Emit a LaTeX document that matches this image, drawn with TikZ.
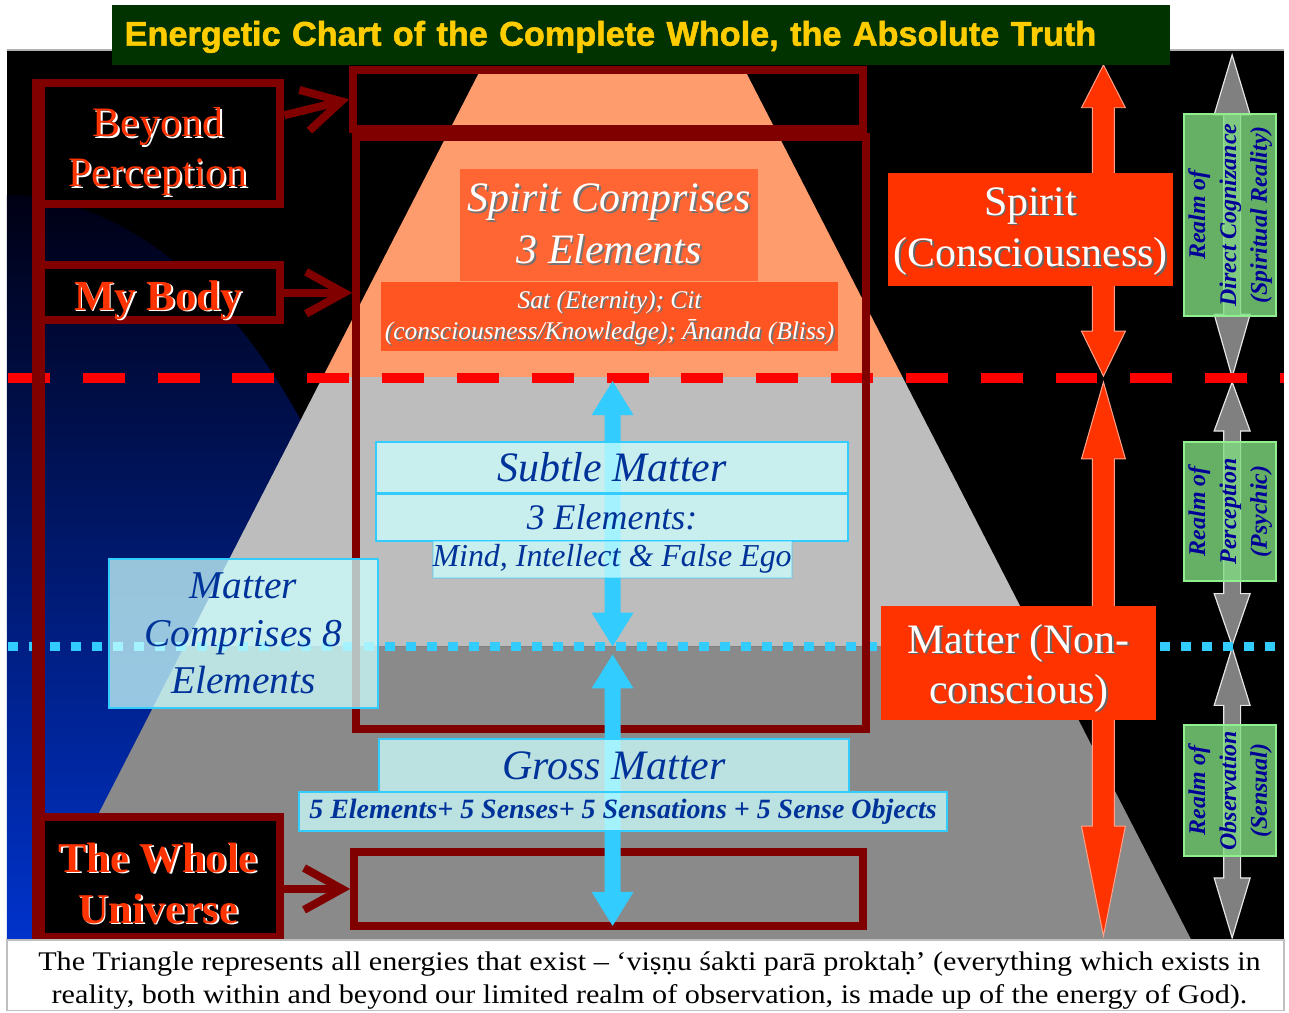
\documentclass[tikz,border=0pt]{standalone}
\usepackage{fontspec}
\setmainfont{Liberation Serif}
\newfontfamily\titlefont{Liberation Sans}[BoldFeatures={FakeBold=1.6}]
\newfontfamily\captionfont{Liberation Serif}[FakeStretch=1.12]
\usetikzlibrary{arrows.meta}

\definecolor{maroonline}{HTML}{800000}
\definecolor{titlegreen}{HTML}{003300}
\definecolor{titleyellow}{HTML}{FFCC00}
\definecolor{spiritred}{HTML}{FF3300}
\definecolor{spiritorange}{HTML}{FF6633}
\definecolor{satorange}{HTML}{FF5522}
\definecolor{pyrorange}{HTML}{FF9C6E}
\definecolor{subtlegray}{HTML}{BDBDBD}
\definecolor{grossgray}{HTML}{8A8A8A}
\definecolor{matterblue}{HTML}{003399}
\definecolor{realmblue}{HTML}{000099}
\definecolor{skycyan}{HTML}{33CCFF}
\definecolor{palecyan}{HTML}{CCFFFF}
\definecolor{realmgreen}{HTML}{80DC80}
\definecolor{realmedge}{HTML}{90F090}
\definecolor{navytop}{HTML}{000014}
\definecolor{navybottom}{HTML}{0033CC}

\newcommand{\fsz}[2]{\fontsize{#1}{#2}\selectfont}
% text with an offset shadow: [lowering], colour, shadow colour, text
\newcommand{\emb}[4][0pt]{\raisebox{-#1}[\height][\depth]{\rlap{\hspace{1.8pt}\raisebox{-1.8pt}{\color{#3}#4}}{\color{#2}#4}}}

\begin{document}
\begin{tikzpicture}[x=1pt, y=-1pt,
    tagbox/.style={draw=maroonline, line width=8pt, fill=black, inner sep=0pt, align=center},
    frame/.style={draw=maroonline, line width=8pt, inner sep=0pt},
    barb/.style={draw=maroonline, line width=8pt, -{Straight Barb[length=38pt, width=42pt]}},
    spine/.style={draw=maroonline, line width=13pt},
    redbox/.style={fill=spiritred, inner sep=0pt, align=center, font=\fsz{42}{52}},
    orangebox/.style={inner sep=0pt, align=center},
    palebox/.style={fill=palecyan, fill opacity=0.75, text opacity=1, draw=skycyan,
      line width=2pt, inner sep=0pt, align=center, text=matterblue},
    realmbox/.style={fill=realmgreen, fill opacity=0.8, text opacity=1, draw=realmedge,
      line width=2pt, inner sep=0pt, align=center, rotate=90, text=realmblue,
      font=\fsz{24}{31}\bfseries\itshape},
    dashedred/.style={draw=red, line width=10pt, dash pattern=on 42pt off 33pt},
    dottedcyan/.style={draw=skycyan, line width=10pt, dash pattern=on 10pt off 11pt}]

    % background, panel and blue glow
    \fill[white] (0,0) rectangle (1289,1013);
    \fill[black] (7,50) rectangle (1287,942);
    \begin{scope}
        \clip (7,50) rectangle (1287,942);
        \clip (0,940) ellipse [x radius=420pt, y radius=745pt];
        \shade[top color=navytop, bottom color=navybottom] (7,195) rectangle (430,942);
    \end{scope}

    % the triangle
    \fill[pyrorange] (480,73) -- (748,73) -- (904.6,378) -- (323.4,378) -- cycle;
    \fill[subtlegray] (323.4,378) -- (904.6,378) -- (1043.3,648) -- (184.7,648) -- cycle;
    \fill[grossgray] (184.7,648) -- (1043.3,648) -- (1194,942) -- (34,942) -- cycle;

    % block arrows on the right
    \foreach \ya/\yb/\la/\lb in {65/377/43/45, 383/938/77/110}
        \filldraw[fill=spiritred, draw=spiritred!45!white, line width=1pt]
            (1106,\ya) -- (1128,\ya+\la) -- (1117,\ya+\la) -- (1117,\yb-\lb) -- (1128,\yb-\lb)
            -- (1106,\yb) -- (1084,\yb-\lb) -- (1095,\yb-\lb) -- (1095,\ya+\la) -- (1084,\ya+\la) -- cycle;
    \foreach \ya/\yb/\la/\lb in {55/378/60/63, 383/647/49/52, 649/940/58/60}
        \filldraw[fill=gray, draw=white!80!gray, line width=1.2pt]
            (1235,\ya) -- (1253,\ya+\la) -- (1243.5,\ya+\la) -- (1243.5,\yb-\lb) -- (1253,\yb-\lb)
            -- (1235,\yb) -- (1217,\yb-\lb) -- (1226.5,\yb-\lb) -- (1226.5,\ya+\la) -- (1217,\ya+\la) -- cycle;

    % level lines
    \draw[dashedred] (8,379) -- (1287,379);
    \draw[dottedcyan] (8,648) -- (1280,648);

    % tags and frames
    \node[tagbox, minimum width=245pt, minimum height=121pt, font=\fsz{42}{50}] (beyond) at (158.5,143.5)
        {\emb[9pt]{spiritred}{white}{Beyond}\\\emb[9pt]{spiritred}{white}{Perception}};
    \node[tagbox, minimum width=245pt, minimum height=55pt, font=\fsz{43}{50}\bfseries] (mybody) at (158.5,293.5)
        {\emb[8pt]{spiritred}{white}{My Body}};
    \node[tagbox, minimum width=245pt, minimum height=120pt, font=\fsz{42.5}{51}\bfseries] (universe) at (158.5,879)
        {\emb[7pt]{spiritred}{white}{The Whole}\\\emb[7pt]{spiritred}{white}{Universe}};
    \node[frame, minimum width=511pt, minimum height=59pt] (upper) at (609.5,99.5) {};
    \node[frame, minimum width=511pt, minimum height=594pt] (middle) at (612.5,434) {};
    \node[frame, minimum width=510pt, minimum height=74pt] (lower) at (610,891) {};

    \draw[spine] ([xshift=6.5pt]beyond.north west) -- ([xshift=6.5pt]universe.south west);
    \draw[barb] ([yshift=28pt]beyond.east) -- (upper.west);
    \draw[barb] (mybody.east) -- (mybody.east -| middle.west);
    \draw[barb] (lower.west -| universe.east) -- (lower.west);

    % arrows through matter
    \foreach \ya/\yb in {382/648, 656/928}
        \fill[skycyan] (614,\ya) -- (635,\ya+34) -- (622,\ya+34) -- (622,\yb-34) -- (635,\yb-34)
            -- (614,\yb) -- (593,\yb-34) -- (606,\yb-34) -- (606,\ya+34) -- (593,\ya+34) -- cycle;

    % spirit
    \node[orangebox, fill=spiritorange, minimum width=299pt, minimum height=113pt, font=\fsz{42}{52}\itshape]
        (spiritcomp) at (610.5,225.5)
        {\emb{white}{black!55}{Spirit Comprises}\\\emb{white}{black!55}{3 Elements}};
    \node[orangebox, fill=satorange, minimum width=458pt, minimum height=69pt, font=\fsz{25.5}{32}\itshape]
        (sat) at (611,317.5)
        {\emb[2pt]{white}{black!55}{Sat (Eternity); Cit}\\\emb[2pt]{white}{black!55}{(consciousness/Knowledge); Ānanda (Bliss)}};

    % matter
    \node[palebox, minimum width=473pt, minimum height=51pt, font=\fsz{42}{48}\itshape] (subtle) at (613.5,468.5) {Subtle Matter};
    \node[palebox, minimum width=473pt, minimum height=47pt, font=\fsz{36}{40}\itshape] (threeel) at (613.5,518.5) {3 Elements:};
    \node[palebox, draw opacity=0.3, minimum width=359pt, minimum height=37pt, font=\fsz{32}{36}\itshape] (mind) at (613.5,560.5)
        {Mind, Intellect \& False Ego};
    \node[palebox, minimum width=270pt, minimum height=150pt, font=\fsz{39.5}{47.5}\itshape] (mattercomp) at (244,635)
        {Matter\\Comprises 8\\Elements};
    \node[palebox, minimum width=471pt, minimum height=53pt, font=\fsz{42}{48}\itshape] (gross) at (615.5,767.5) {Gross Matter};
    \node[palebox, minimum width=649pt, minimum height=39pt, font=\fsz{28}{30}\bfseries\itshape] (fiveel) at (624.5,813.5)
        {5 Elements+ 5 Senses+ 5 Sensations + 5 Sense Objects};

    \node[redbox, minimum width=286pt, minimum height=114pt] (spirit) at (1033,230)
        {\emb[3pt]{white}{black!60}{Spirit}\\\emb[3pt]{white}{black!60}{(Consciousness)}};
    \node[redbox, minimum width=276pt, minimum height=115pt, font=\fsz{42}{50}] (matter) at (1021,664.5)
        {\emb[6pt]{white}{black!60}{Matter (Non-}\\\emb[6pt]{white}{black!60}{conscious)}};

    % realms
    \node[realmbox, minimum width=203pt, minimum height=92pt] (cognizance) at (1233,215.5)
        {Realm of\\Direct Cognizance\\(Spiritual Reality)};
    \node[realmbox, minimum width=139pt, minimum height=92pt] (perception) at (1233,512.5)
        {Realm of\\Perception\\(Psychic)};
    \node[realmbox, minimum width=131pt, minimum height=92pt] (observation) at (1233,792.5)
        {Realm of\\Observation\\(Sensual)};

    % caption and title
    \draw[draw=gray!50, line width=1.5pt, fill=white] (7,942) rectangle (1287,1013);
    \draw[gray!60, line width=1.5pt] (7,50) -- (1287,50);
    \node[font=\captionfont\fsz{27}{33}, align=center] (caption) at (651,983)
        {The Triangle represents all energies that exist – ‘viṣṇu śakti parā proktaḥ’ (everything which exists in\\
         reality, both within and beyond our limited realm of observation, is made up of the energy of God).};
    \node[fill=titlegreen, text width=1035pt, inner xsep=13pt, inner ysep=0pt, minimum height=60pt, align=left,
        text=titleyellow, font=\titlefont\bfseries\fsz{34.3}{40}] (title) at (642.5,35)
        {\raisebox{-2pt}[\height][\depth]{Energetic Chart of the Complete Whole, the Absolute Truth}};
\end{tikzpicture}
\end{document}
